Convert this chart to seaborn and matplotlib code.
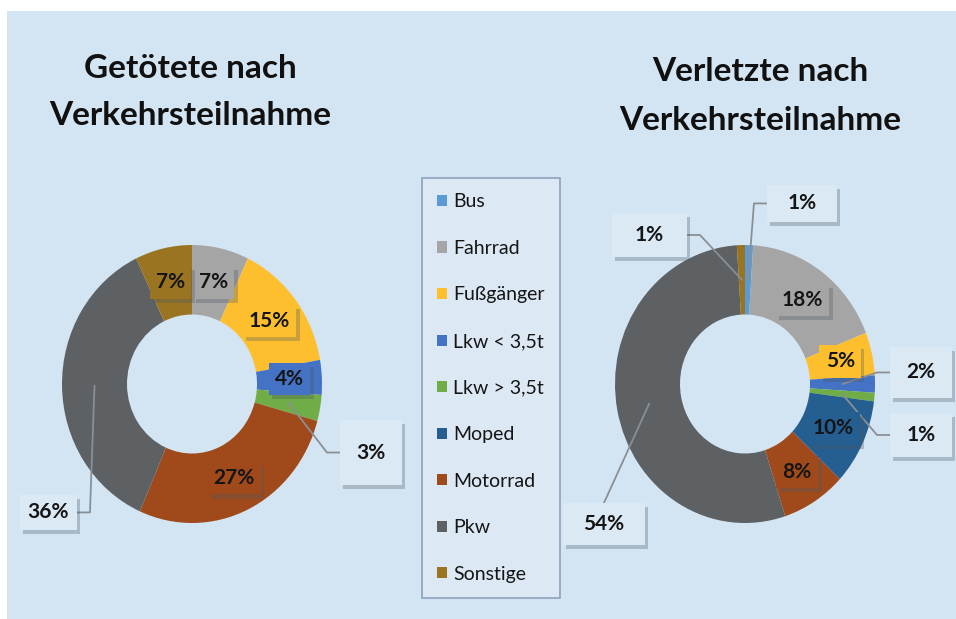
import numpy as np
import matplotlib
matplotlib.use('Agg')
import matplotlib.pyplot as plt
import matplotlib.patheffects as pe
from matplotlib.patches import Patch, Rectangle
import seaborn as sns

# categories and colours (Office palette)
categories = ['Bus', 'Fahrrad', 'Fußgänger', 'Lkw < 3,5t', 'Lkw > 3,5t',
              'Moped', 'Motorrad', 'Pkw', 'Sonstige']
colors = ['#5b9bd5', '#a5a5a5', '#fdbf2d', '#4472c4', '#70ad47',
          '#255e91', '#a04a1c', '#5e6163', '#9a7420']

# percent shares
killed = [0, 7, 15, 4, 3, 0, 27, 36, 7]
injured = [1, 18, 5, 2, 1, 10, 8, 54, 1]

title_killed = 'Getötete nach\nVerkehrsteilnahme'
title_injured = 'Verletzte nach\nVerkehrsteilnahme'

# labels placed outside the ring: category -> (cx, cy, w, h, leader style)
outside_killed = {
    'Lkw > 3,5t': (1.377, -0.493, 0.477, 0.468, 'side'),
    'Pkw': (-1.104, -0.924, 0.438, 0.252, 'side'),
}
outside_injured = {
    'Bus': (0.438, 1.299, 0.538, 0.266, 'side'),
    'Sonstige': (-0.735, 1.072, 0.577, 0.317, 'side'),
    'Lkw < 3,5t': (1.354, 0.083, 0.477, 0.367, 'side'),
    'Lkw > 3,5t': (1.354, -0.367, 0.477, 0.317, 'side'),
    'Pkw': (-1.085, -1.007, 0.631, 0.302, 'top'),
}

W, H = 956, 619
RX, RY = 130, 139
BG = '#d3e5f3'
BOX = '#dbe9f5'
TEXT = '#151515'
LEADER = '#8a8f94'

sns.set_theme(style='white')
plt.rcParams['font.family'] = ['Lato', 'DejaVu Sans']

fig = plt.figure(figsize=(W / 100, H / 100), dpi=100)
fig.patch.set_facecolor('white')
fig.add_artist(Rectangle((7 / W, 0), 1 - 7 / W, 1 - 11 / H, transform=fig.transFigure,
                         facecolor=BG, edgecolor='none', zorder=0))

shadow = [pe.SimplePatchShadow(offset=(2.5, -3), shadow_rgbFace='#4a5560', alpha=0.3),
          pe.Normal()]


def draw_donut(cx_px, cy_px, values, outside):
    ax = fig.add_axes([(cx_px - RX) / W, (H - cy_px - RY) / H, 2 * RX / W, 2 * RY / H])
    ax.patch.set_visible(False)
    ax.pie(values, colors=colors, startangle=90, counterclock=False, radius=1,
           wedgeprops=dict(width=0.5, linewidth=0))
    ax.set_aspect('auto')
    ax.set_xlim(-1, 1)
    ax.set_ylim(-1, 1)
    ax.axis('off')

    total = float(sum(values))
    start = 0.0
    for cat, col, v in zip(categories, colors, values):
        if v == 0:
            continue
        mid = 90 - (start + v / 2) / total * 360
        start += v
        px, py = 0.75 * np.cos(np.radians(mid)), 0.75 * np.sin(np.radians(mid))
        label = f'{v}%'
        if cat in outside:
            bx, by, bw, bh, style = outside[cat]
            box = Rectangle((bx - bw / 2, by - bh / 2), bw, bh, facecolor=BOX,
                            edgecolor='none', clip_on=False, zorder=5)
            box.set_path_effects(shadow)
            ax.add_patch(box)
            ax.text(bx, by, label, ha='center', va='center', fontsize=15,
                    fontweight='bold', color=TEXT, zorder=6)
            if style == 'top':
                xs, ys = [px, bx], [py, by + bh / 2]
            else:
                edge = bx - bw / 2 if bx > px else bx + bw / 2
                elbow = edge - 0.1 if bx > px else edge + 0.1
                xs, ys = [px, elbow, edge], [py, by, by]
            ax.plot(xs, ys, color=LEADER, lw=1.3, clip_on=False, zorder=3)
        else:
            t = ax.text(px, py, label, ha='center', va='center', fontsize=15,
                        fontweight='bold', color=TEXT, zorder=5,
                        bbox=dict(boxstyle='square,pad=0.3', facecolor=col,
                                  edgecolor='none'))
            t.get_bbox_patch().set_path_effects(shadow)
    return ax


draw_donut(192, 384, killed, outside_killed)
draw_donut(745, 384, injured, outside_injured)

fig.text(190 / W, 1 - 92 / H, title_killed, ha='center', va='center', fontsize=24,
         fontweight='bold', color='#111111', linespacing=1.75)
fig.text(760 / W, 1 - 96 / H, title_injured, ha='center', va='center', fontsize=24,
         fontweight='bold', color='#111111', linespacing=1.8)

handles = [Patch(facecolor=c, edgecolor='none') for c in colors]
leg = fig.legend(handles, categories, loc='upper left',
                 bbox_to_anchor=(422 / W, 1 - 178 / H), frameon=True, fancybox=False,
                 framealpha=1, facecolor='#dce9f4', edgecolor='#8ea2bb', fontsize=14,
                 handlelength=0.5, handleheight=0.5, handletextpad=0.3,
                 labelspacing=1.52, borderpad=0.79, borderaxespad=0)
leg.get_frame().set_linewidth(1.2)
for t in leg.get_texts():
    t.set_color(TEXT)

fig.savefig('out.png', dpi=100)
